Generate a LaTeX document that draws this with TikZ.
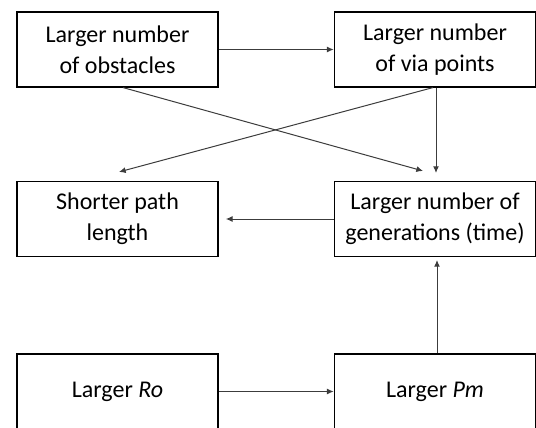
\documentclass[tikz,border=0pt]{standalone}
\usepackage{fontspec}
\setmainfont{Carlito}
\usetikzlibrary{arrows.meta, calc}

\tikzset{
  factor/.style={draw, line width=1.1pt, minimum width=151pt, minimum height=56pt, inner sep=0.75pt, align=center, font=\fontsize{18}{23.25}\selectfont},
  link/.style={draw={rgb, 255:red, 60; green, 60; blue, 60 }, line width=0.75pt, -{Latex[length=5pt,width=4.5pt]}}
}

\begin{document}
\begin{tikzpicture}[x=0.75pt,y=0.75pt,yscale=-1,xscale=1]
\useasboundingbox (0,0) rectangle (536,428);

%Shape: Rectangle [top row]
\node [factor] (obst) at (117.5,49.5) {Larger number\\of obstacles};
\node [factor] (via) at (435,49.5) {Larger number\\of via points};
%Shape: Rectangle [middle row]
\node [factor] (short) at (117.5,219) {Shorter path\\length};
\node [factor] (gen) at (435,219) {Larger number of\\generations (time)};
%Shape: Rectangle [bottom row]
\node [factor] (ro) at (117.5,391.5) {Larger \textit{Ro}};
\node [factor] (pm) at (435,391.5) {Larger \textit{Pm}};

%Straight Lines
\draw [link] (obst) -- (via);
%Straight Lines
\draw [link] ($(obst.south)+(5.5,0)$) -- ($(gen.north)+(-12,-10)$);
%Straight Lines
\draw [link] ($(via.south)+(-2,0)$) -- ($(short.north)+(1.5,-9)$);
%Straight Lines
\draw [link] ($(via.south)+(1,0)$) -- ($(gen.north)+(1,-8)$);
%Straight Lines
\draw [link] (gen.west) -- ($(short.east)+(7,0)$);
%Straight Lines
\draw [link] ($(pm.north)+(2,0)$) -- ($(gen.south)+(2,3)$);
%Straight Lines
\draw [link] (ro) -- (pm);

\end{tikzpicture}
\end{document}
